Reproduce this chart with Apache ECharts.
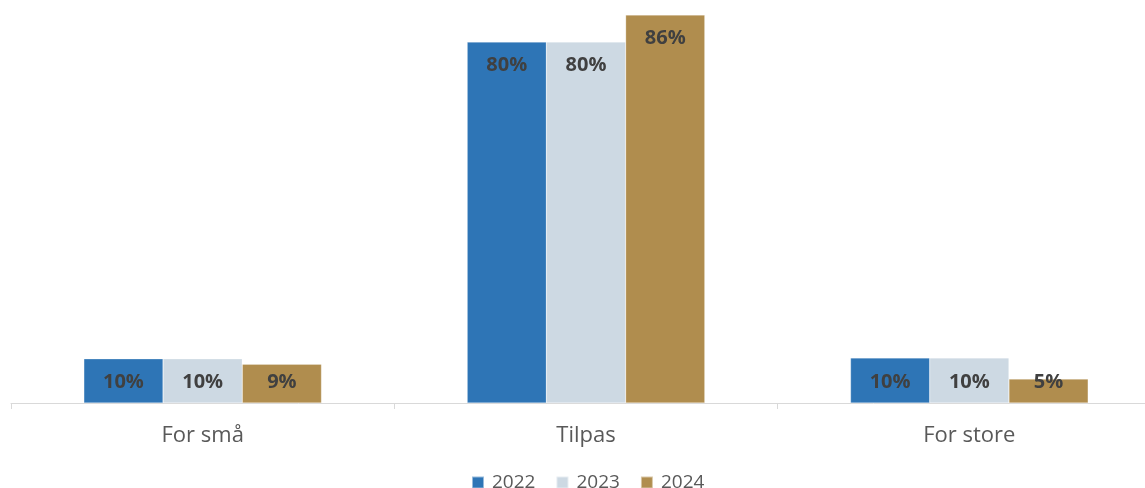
<!DOCTYPE html>
<html><head><meta charset="utf-8">
<script src="https://cdn.jsdelivr.net/npm/echarts@6/dist/echarts.min.js"></script>
<style>html,body{margin:0;padding:0;background:#fff;overflow:hidden;width:1145px;height:488px}#c{width:1161px;height:488px}</style>
</head><body><div id="c"></div>
<script>
const categories = ['For små', 'Tilpas', 'For store'];
const seriesNames = ['2022', '2023', '2024'];
const v2022 = [9.8, 80, 10.0];
const v2023 = [9.8, 80, 10.0];
const v2024 = [8.6, 86, 5.3];
const colors = ['#2E75B6', '#CDD9E3', '#B08D4E'];

const values = [v2022, v2023, v2024];
const chart = echarts.init(document.getElementById('c'));
chart.setOption({
  animation: false,
  color: colors,
  grid: { left: 11, right: 0, top: 15, bottom: 85, containLabel: false },
  legend: {
    top: 473, left: 471, padding: 0, itemWidth: 12, itemHeight: 12, itemGap: 20, icon: 'rect',
    textStyle: { fontFamily: 'Open Sans', fontSize: 19, color: '#595959', padding: [0, 0, 0, 3] },
    data: seriesNames
  },
  xAxis: {
    type: 'category', data: categories,
    axisLine: { lineStyle: { color: '#D9D9D9', width: 1 } },
    axisTick: { show: true, length: 6, lineStyle: { color: '#D9D9D9' } },
    axisLabel: { margin: 22, fontFamily: 'Open Sans', fontSize: 22, color: '#595959' }
  },
  yAxis: { type: 'value', min: 0, max: 86, show: false, splitLine: { show: false } },
  series: seriesNames.map((n, i) => ({
    name: n, type: 'bar',
    data: values[i].map(v => ({
      value: v,
      label: v < 15 ? { position: 'insideBottom', distance: 11 } : { position: 'insideTop', distance: 13 }
    })),
    barGap: '0%', barCategoryGap: '38%',
    itemStyle: { borderColor: 'rgba(255,255,255,0.5)', borderWidth: 0.5 },
    label: {
      show: true,
      fontFamily: 'Open Sans', fontWeight: 'bold', fontSize: 20, color: '#404040',
      formatter: p => Math.round(p.value) + '%'
    }
  }))
});
</script></body></html>
